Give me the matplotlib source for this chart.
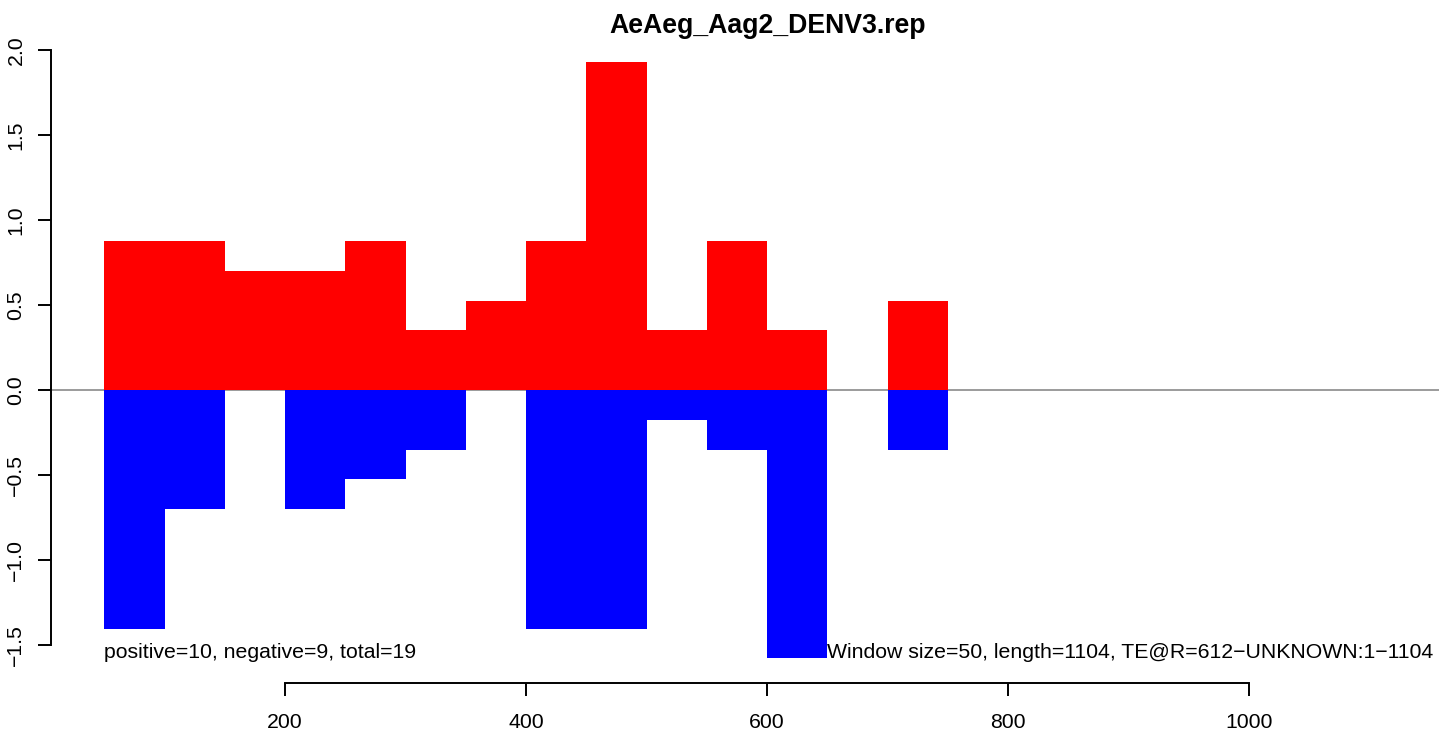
import numpy as np
import matplotlib
matplotlib.use('Agg')
import matplotlib.pyplot as plt

plt.rcParams['font.family'] = ['Liberation Sans', 'DejaVu Sans']

# window starts (window size 50)
win_start = [50, 100, 150, 200, 250, 300, 350, 400, 450, 500, 550, 600, 650, 700]
win_size = 50
pos_vals = [0.877, 0.877, 0.702, 0.702, 0.877, 0.351, 0.526, 0.877, 1.929, 0.351, 0.877, 0.351, 0.0, 0.526]
neg_vals = [-1.403, -0.702, 0.0, -0.702, -0.526, -0.351, 0.0, -1.403, -1.403, -0.175, -0.351, -1.578, 0.0, -0.351]

title = 'AeAeg_Aag2_DENV3.rep'
left_note = 'positive=10, negative=9, total=19'
right_note = 'Window size=50, length=1104, TE@R=612\u2212UNKNOWN:1\u22121104'

x_ticks = [200, 400, 600, 800, 1000]
y_ticks = [-1.5, -1.0, -0.5, 0.0, 0.5, 1.0, 1.5, 2.0]

W, H = 1439, 734
fig = plt.figure(figsize=(W / 100, H / 100), dpi=100)
# plot region in pixels: x 51..1439, y 39..683
ax = fig.add_axes([51 / W, 1 - 683 / H, (W - 51) / W, (683 - 39) / H])

px_per_unit = 1.205
ax.set_xlim((51 - 44) / px_per_unit, (W - 44) / px_per_unit)
ax.set_ylim((390 - 683) / 170, (390 - 39) / 170)

ax.axhline(0, color='#808080', lw=1.1, zorder=1)
ax.bar(win_start, pos_vals, width=win_size, align='edge', color='#FF0000', linewidth=0, zorder=2)
ax.bar(win_start, neg_vals, width=win_size, align='edge', color='#0000FF', linewidth=0, zorder=2)

for s in ['top', 'right']:
    ax.spines[s].set_visible(False)
ax.spines['left'].set_bounds(-1.5, 2.0)
ax.spines['bottom'].set_bounds(200, 1000)
ax.spines['left'].set_linewidth(1.4)
ax.spines['bottom'].set_linewidth(1.4)

ax.set_xticks(x_ticks)
ax.set_xticklabels([str(t) for t in x_ticks])
ax.set_yticks(y_ticks)
ax.set_yticklabels([f'{t:.1f}'.replace('-', '\u2212') for t in y_ticks])
ax.tick_params(axis='both', direction='out', length=9.4, width=1.4, labelsize=15.3)
ax.tick_params(axis='x', pad=12.5)
ax.tick_params(axis='y', pad=9, labelrotation=90)
for lab in ax.get_yticklabels():
    lab.set_va('center')

ax.text(50, -1.545, left_note, ha='left', va='center', fontsize=15.3)
ax.text(1153, -1.545, right_note, ha='right', va='center', fontsize=15.3)

fig.text(768 / W, 1 - 33 / H, title, fontsize=19.2, fontweight='bold',
         ha='center', va='baseline')

fig.savefig('out.png', dpi=100)
